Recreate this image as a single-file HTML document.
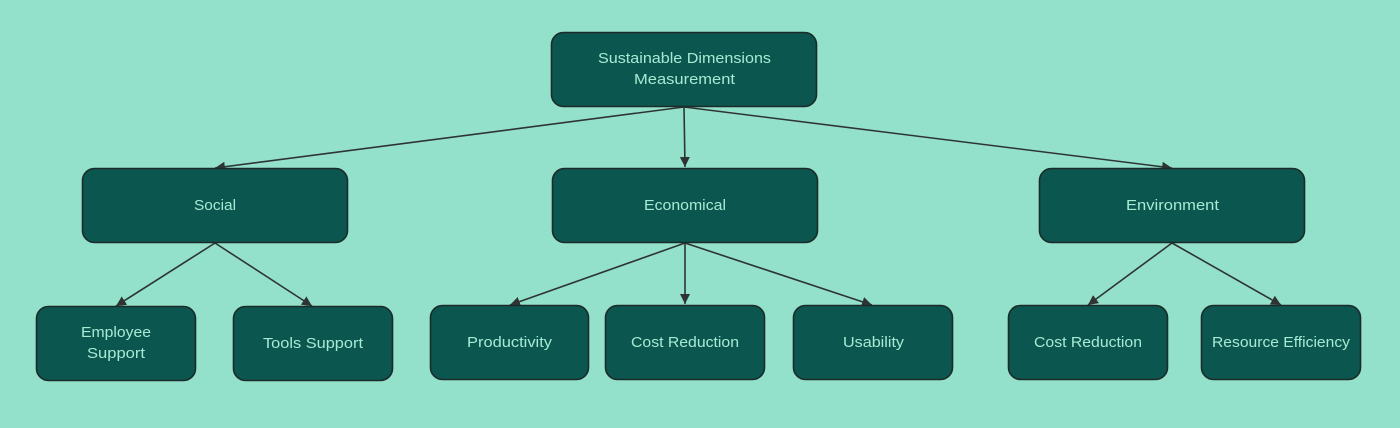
<!DOCTYPE html>
<html><head><meta charset="utf-8"><style>
html,body{margin:0;padding:0;background:#94e1cb;}
svg{display:block;}
text{font-family:"Liberation Sans",sans-serif;font-size:15px;fill:#a6ead3;}
</style></head><body>
<svg width="1400" height="428" viewBox="0 0 1400 428" xmlns="http://www.w3.org/2000/svg">
<defs>
<marker id="ah" viewBox="0 0 10 10" refX="10" refY="5" markerWidth="10" markerHeight="10" markerUnits="userSpaceOnUse" orient="auto">
<path d="M0,0 L10,5 L0,10 z" fill="#2e3432"/>
</marker>
</defs>
<rect width="1400" height="428" fill="#94e1cb"/>
<g stroke="#2e3432" stroke-width="1.6" fill="none" marker-end="url(#ah)">
<line x1="684" y1="107" x2="215" y2="168"/>
<line x1="684" y1="107" x2="685" y2="167"/>
<line x1="684" y1="107" x2="1172" y2="168"/>
<line x1="215" y1="243" x2="116" y2="306"/>
<line x1="215" y1="243" x2="312" y2="306"/>
<line x1="685" y1="243" x2="510" y2="305"/>
<line x1="685" y1="243" x2="685" y2="304"/>
<line x1="685" y1="243" x2="872" y2="305"/>
<line x1="1172" y1="243" x2="1088" y2="305"/>
<line x1="1172" y1="243" x2="1281" y2="305"/>
</g>
<g fill="#0c5650" stroke="#1b2b29" stroke-width="1.6">
<rect x="551.5" y="32.5" width="265" height="74" rx="12"/>
<rect x="82.5" y="168.5" width="265" height="74" rx="12"/>
<rect x="552.5" y="168.5" width="265" height="74" rx="12"/>
<rect x="1039.5" y="168.5" width="265" height="74" rx="12"/>
<rect x="36.5" y="306.5" width="159" height="74" rx="12"/>
<rect x="233.5" y="306.5" width="159" height="74" rx="12"/>
<rect x="430.5" y="305.5" width="158" height="74" rx="12"/>
<rect x="605.5" y="305.5" width="159" height="74" rx="12"/>
<rect x="793.5" y="305.5" width="159" height="74" rx="12"/>
<rect x="1008.5" y="305.5" width="159" height="74" rx="12"/>
<rect x="1201.5" y="305.5" width="159" height="74" rx="12"/>
</g>
<g text-anchor="middle">
<text x="684.5" y="63" textLength="173" lengthAdjust="spacingAndGlyphs">Sustainable Dimensions</text>
<text x="684.5" y="84" textLength="101" lengthAdjust="spacingAndGlyphs">Measurement</text>
<text x="215" y="210" textLength="42" lengthAdjust="spacingAndGlyphs">Social</text>
<text x="685" y="210" textLength="82" lengthAdjust="spacingAndGlyphs">Economical</text>
<text x="1172.5" y="210" textLength="93" lengthAdjust="spacingAndGlyphs">Environment</text>
<text x="116" y="337" textLength="70" lengthAdjust="spacingAndGlyphs">Employee</text>
<text x="116" y="358" textLength="58" lengthAdjust="spacingAndGlyphs">Support</text>
<text x="313" y="348" textLength="100" lengthAdjust="spacingAndGlyphs">Tools Support</text>
<text x="509.5" y="347" textLength="85" lengthAdjust="spacingAndGlyphs">Productivity</text>
<text x="685" y="347" textLength="108" lengthAdjust="spacingAndGlyphs">Cost Reduction</text>
<text x="873.5" y="347" textLength="61" lengthAdjust="spacingAndGlyphs">Usability</text>
<text x="1088" y="347" textLength="108" lengthAdjust="spacingAndGlyphs">Cost Reduction</text>
<text x="1281" y="347" textLength="138" lengthAdjust="spacingAndGlyphs">Resource Efficiency</text>
</g>
</svg>
</body></html>
